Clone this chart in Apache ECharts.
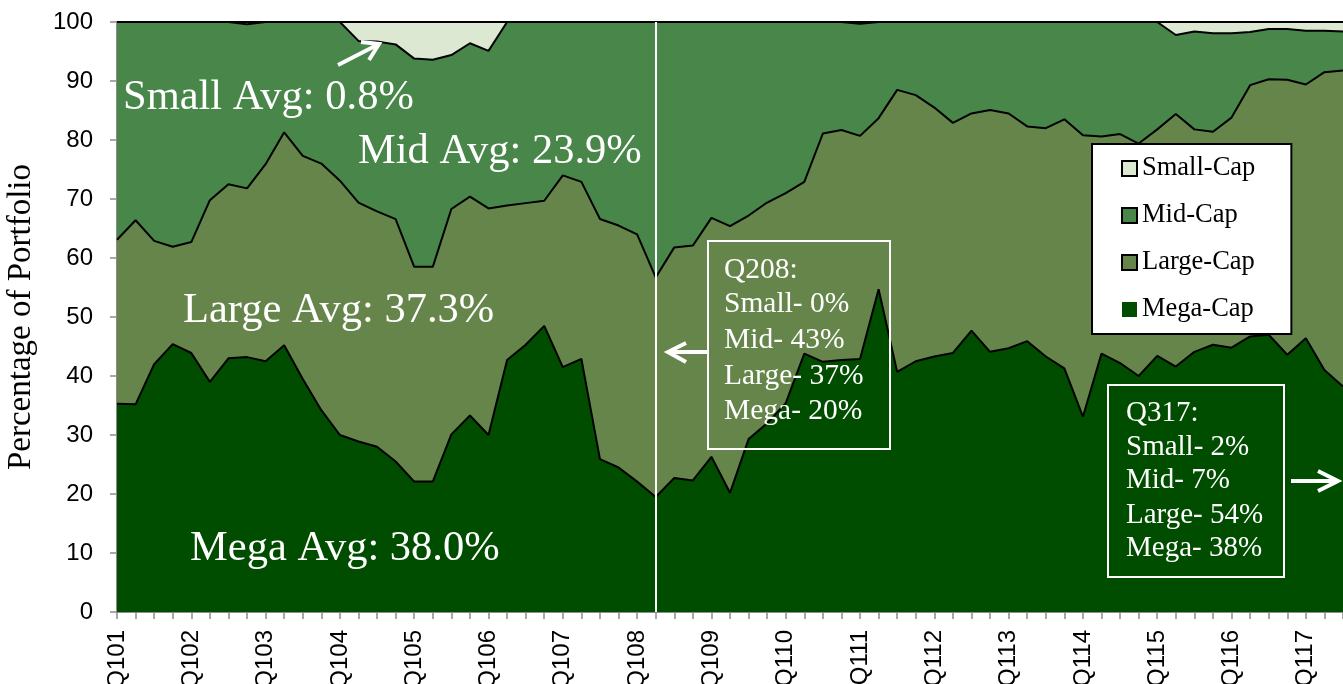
<!DOCTYPE html>
<html>
<head>
<meta charset="utf-8">
<script src="https://cdn.jsdelivr.net/npm/echarts@6/dist/echarts.min.js"></script>
<style>
html,body{margin:0;padding:0;background:#fff;}
#c{width:1343px;height:684px;}
</style>
</head>
<body>
<div id="c"></div>
<script>
const categories = [
 'Q101','Q201','Q301','Q401','Q102','Q202','Q302','Q402','Q103','Q203','Q303','Q403',
 'Q104','Q204','Q304','Q404','Q105','Q205','Q305','Q405','Q106','Q206','Q306','Q406',
 'Q107','Q207','Q307','Q407','Q108','Q208','Q308','Q408','Q109','Q209','Q309','Q409',
 'Q110','Q210','Q310','Q410','Q111','Q211','Q311','Q411','Q112','Q212','Q312','Q412',
 'Q113','Q213','Q313','Q413','Q114','Q214','Q314','Q414','Q115','Q215','Q315','Q415',
 'Q116','Q216','Q316','Q416','Q117','Q217','Q317'
];
const megaCap = [35.3,35.2,42.0,45.4,43.9,39.0,43.0,43.2,42.5,45.2,39.5,34.2,30.0,28.9,28.0,25.5,22.1,22.1,30.1,33.3,30.0,42.7,45.3,48.5,41.5,42.9,25.9,24.5,22.1,19.5,22.7,22.3,26.3,20.2,29.3,32.0,35.4,43.8,42.4,42.7,42.9,54.7,40.7,42.5,43.3,43.9,47.7,44.1,44.7,45.9,43.3,41.3,33.1,43.8,42.2,40.0,43.4,41.6,44.1,45.3,44.8,46.7,47.0,43.6,46.4,41.0,38.2];
const largeCap = [27.8,31.2,20.9,16.5,18.8,30.8,29.5,28.6,33.4,36.1,37.8,41.8,43.1,40.5,39.9,41.1,36.4,36.4,38.2,37.1,38.4,26.2,24.0,21.2,32.5,30.0,40.7,41.0,41.9,37.2,39.1,39.8,40.5,45.2,37.9,37.4,35.6,29.1,38.7,39.0,37.8,29.0,47.8,45.1,42.2,39.0,36.8,41.0,39.8,36.4,38.7,42.2,47.7,36.8,38.8,39.4,38.4,42.8,37.7,36.1,39.0,42.6,43.3,46.6,43.0,50.5,53.6];
const midCap = [36.9,33.6,37.1,38.1,37.3,30.2,27.5,27.8,24.1,18.7,22.7,24.0,26.9,27.4,28.8,29.6,35.3,35.1,26.1,26.0,26.7,31.1,30.7,30.3,26.0,27.1,33.4,34.5,36.0,43.3,38.2,37.9,33.2,34.6,32.8,30.6,29.0,27.1,18.9,18.3,19.0,16.3,11.5,12.4,14.5,17.1,15.5,14.9,15.5,17.7,18.0,16.5,19.2,19.4,19.0,20.6,18.2,13.4,16.6,16.7,14.3,9.0,8.5,8.6,9.1,7.0,6.6];
const smallCap = [0,0,0,0,0,0,0,0.4,0,0,0,0,0,3.2,3.3,3.8,6.2,6.4,5.6,3.6,4.9,0,0,0,0,0,0,0,0,0,0,0,0,0,0,0,0,0,0,0,0.3,0,0,0,0,0,0,0,0,0,0,0,0,0,0,0,0,2.2,1.6,1.9,1.9,1.7,1.2,1.2,1.5,1.5,1.6];
const yTicks = [0,10,20,30,40,50,60,70,80,90,100];

const COLORS = {mega:'#004d00', large:'#66854a', mid:'#48864a', small:'#dce8d2'};
const SERIF = "'Liberation Serif','Times New Roman',serif";
const SANS = "'Liberation Sans',Arial,sans-serif";

function mkSeries(name, data, color, z, extra){
  return Object.assign({
    name, type:'line', stack:'total', data, color,
    symbol:'none', showSymbol:false, z,
    lineStyle:{color:'#000', width:2},
    areaStyle:{color, opacity:1},
    itemStyle:{color},
    emphasis:{disabled:true}
  }, extra||{});
}

function txt(x,y,text,size){
  return {type:'text', x:x, y:y, z:100,
    style:{text, fill:'#fff', font:size+'px '+SERIF, align:'left', verticalAlign:'middle'}};
}
function arrow(points, head){
  return [
    {type:'polyline', z:100, shape:{points}, style:{stroke:'#fff', lineWidth:4, fill:null}},
    {type:'polyline', z:100, shape:{points:head}, style:{stroke:'#fff', lineWidth:4, fill:null, lineJoin:'miter'}}
  ];
}

const chart = echarts.init(document.getElementById('c'));
chart.setOption({
  animation:false,
  backgroundColor:'#fff',
  grid:{left:117, right:0, top:22, bottom:72, containLabel:false, outerBoundsMode:'none'},
  legend:{
    z:50, zlevel:0,
    orient:'vertical', left:1092, top:144,
    icon:'rect', itemWidth:15, itemHeight:15, itemGap:20,
    backgroundColor:'#fff', borderColor:'#000', borderWidth:2, borderRadius:0,
    padding:[11,36,11,29],
    textStyle:{fontFamily:SERIF, fontSize:26.5, color:'#000'},
    data:[
      {name:'Small-Cap', itemStyle:{color:COLORS.small, borderColor:'#000', borderWidth:2}},
      {name:'Mid-Cap', itemStyle:{color:COLORS.mid, borderColor:'#000', borderWidth:2}},
      {name:'Large-Cap', itemStyle:{color:COLORS.large, borderColor:'#000', borderWidth:2}},
      {name:'Mega-Cap', itemStyle:{color:COLORS.mega, borderWidth:0}}
    ]
  },
  xAxis:{
    type:'category', data:categories, boundaryGap:false,
    axisLine:{lineStyle:{color:'#8c8c8c', width:2}},
    axisTick:{interval:0, length:7, lineStyle:{color:'#8c8c8c', width:1.5}},
    axisLabel:{interval:3, rotate:90, fontFamily:SANS, fontSize:24, color:'#000', margin:18},
    splitLine:{show:false}
  },
  yAxis:{
    type:'value', min:yTicks[0], max:yTicks[yTicks.length-1], interval:10,
    name:'Percentage of Portfolio', nameLocation:'middle', nameGap:79,
    nameTextStyle:{fontFamily:SERIF, fontSize:33, color:'#000'},
    axisLine:{show:true, lineStyle:{color:'#8c8c8c', width:2}},
    axisTick:{show:true, length:7, lineStyle:{color:'#8c8c8c', width:1.5}},
    axisLabel:{fontFamily:SANS, fontSize:24, color:'#000', margin:24},
    splitLine:{show:false}
  },
  series:[
    mkSeries('Mega-Cap', megaCap, COLORS.mega, 5, {
      markLine:{silent:true, symbol:'none', z:10, label:{show:false},
        lineStyle:{color:'#fff', width:2, type:'solid'},
        data:[{xAxis:'Q208'}]}
    }),
    mkSeries('Large-Cap', largeCap, COLORS.large, 4),
    mkSeries('Mid-Cap', midCap, COLORS.mid, 3),
    mkSeries('Small-Cap', smallCap, COLORS.small, 2)
  ],
  graphic:[
    txt(123,98,'Small Avg: 0.8%',42.5),
    txt(358,152,'Mid Avg: 23.9%',42.5),
    txt(183,311,'Large Avg: 37.3%',42.5),
    txt(190,549,'Mega Avg: 38.0%',42.5),
    ...arrow([[338,65],[379,44]], [[361,42],[379,44],[369,60]]),
    ...arrow([[707,352],[668,352]], [[686,343],[668,352],[686,362]]),
    ...arrow([[1291,481],[1338,481]], [[1318,471],[1338,481],[1318,491]]),
    {type:'rect', z:100, shape:{x:708, y:241, width:182, height:208}, style:{fill:null, stroke:'#fff', lineWidth:2}},
    txt(724,270,'Q208:',29.5),
    txt(724,304,'Small- 0%',29.5),
    txt(724,340,'Mid- 43%',29.5),
    txt(724,376,'Large- 37%',29.5),
    txt(724,411,'Mega- 20%',29.5),
    {type:'rect', z:100, shape:{x:1108, y:385, width:176, height:192}, style:{fill:null, stroke:'#fff', lineWidth:2}},
    txt(1126,413,'Q317:',29),
    txt(1126,447,'Small- 2%',29),
    txt(1126,480,'Mid- 7%',29),
    txt(1126,515,'Large- 54%',29),
    txt(1126,548,'Mega- 38%',29)
  ]
});
</script>
</body>
</html>
